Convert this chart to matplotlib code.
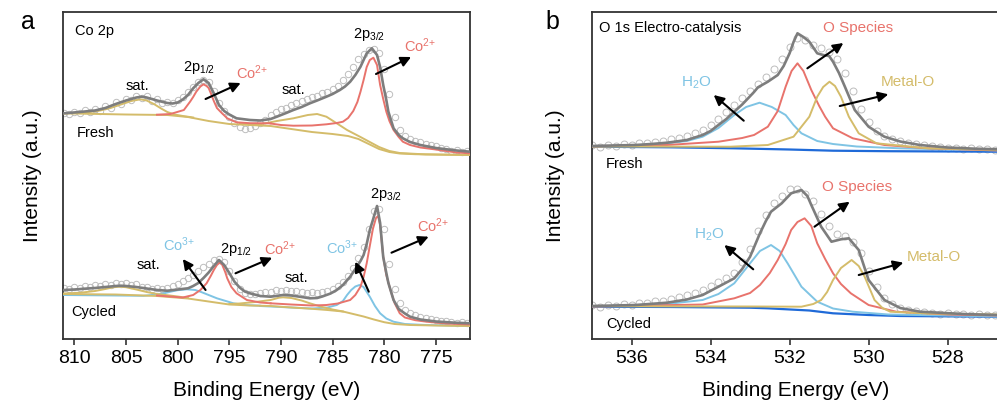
import numpy as np
import matplotlib
matplotlib.use("Agg")
import matplotlib.pyplot as plt

plt.rcParams['font.family'] = ['Liberation Sans', 'DejaVu Sans']
plt.rcParams['mathtext.fontset'] = 'custom'
plt.rcParams['mathtext.rm'] = 'Liberation Sans'
plt.rcParams['mathtext.default'] = 'regular'

# colours
GRAY = '#7d7d7d'
RED = '#e8736c'
YEL = '#d4bc6a'
LBLUE = '#7fc4e4'
DBLUE = '#1f6ad8'
CIRC = '#bdbdbd'

# ---------------- panel a : Co 2p, fresh ----------------
fa_base_e = [811, 805, 801, 799, 797, 795, 793, 791, 789, 787, 785, 783.5, 782.5, 781.5, 780.5, 779.5, 778.5, 777, 774, 771.7]
fa_base_i = [225.7, 224.5, 224, 222, 218, 215, 214, 213, 210, 207, 205, 203, 200, 195, 190, 187, 185.5, 184.8, 184.3, 184]

fa_env_e = [811, 809.5, 808, 807, 806, 805, 804, 803.5, 803, 802, 801, 800.5, 800, 799.5, 799, 798.5, 798, 797.5, 797,
            796.5, 796, 795.5, 795, 794.3, 793, 792, 791, 790.4, 789.5, 788.8, 788, 787.2, 786.5, 785.6, 785, 784.3,
            783.8, 783.3, 782.8, 782.3, 781.7, 781.2, 780.7, 780.4, 780.1, 779.8, 779.6, 779.1, 778.6, 778.2, 777.5,
            776.5, 775, 773, 771.7]
fa_env_i = [225.7, 227, 228.5, 231, 235, 238.5, 241.5, 242.3, 241.5, 238.5, 236, 235.5, 236.5, 239.5, 244, 250.7, 256,
            259.7, 256, 245.7, 234, 228, 224.5, 220.7, 219, 218.5, 220, 222.3, 226, 229, 232, 235.7, 238.5, 242.3, 245,
            249, 252.5, 257.3, 264, 272.3, 285.7, 290.7, 284, 272, 254, 239, 227.3, 210.7, 204, 200.7, 197, 194, 191,
            188.5, 187.3]

fa_sat1_e = [811, 810, 808.5, 807.5, 806.5, 805.5, 804.5, 803.6, 803, 802.3, 801.6, 801, 800.3, 799.5, 798.5]
fa_sat1_i = [225.7, 226, 227, 228.5, 231, 234.5, 238, 239.7, 238.5, 235, 230.5, 227, 224.5, 223, 221.5]

fa_co2a_e = [802, 800.7, 799.4, 798.8, 798.5, 798.2, 797.8, 797.5, 797.2, 797.0, 796.8, 796.5, 796.2, 795.8, 795.2,
             794.3, 793, 791]
fa_co2a_i = [224.3, 225, 229, 237.3, 242, 247.3, 252.5, 254.7, 253, 251, 246, 238, 231, 226.7, 220.7, 216.7, 215.8, 215.7]

fa_sat2_e = [794, 792, 790.4, 788.8, 787.4, 786.5, 785.6, 784.6, 783.6, 782.3, 781.4, 780.5, 779.5, 778.5, 776, 771.7]
fa_sat2_i = [215, 214.7, 218, 220.7, 224, 225, 222.3, 215.7, 209, 202, 197, 192, 188, 186, 184.6, 184]

fa_co2b_e = [791, 790, 788.8, 787, 785.6, 784.6, 784, 783.5, 783, 782.6, 782.3, 782, 781.7, 781.4, 781.05, 780.7,
             780.4, 780.1, 779.8, 779.5, 779.1, 778.6, 778.2, 777.5, 776.5, 775, 773, 771.7]
fa_co2b_i = [215.5, 214, 213.3, 213.5, 214.7, 216, 217.3, 221, 228, 237, 247.3, 259, 272, 279, 281.3, 274, 254, 240,
             227.3, 218, 209, 202, 197.3, 194, 191.5, 189.5, 186.5, 185.7]

raw_e_a = np.linspace(811, 772, 79)
fa_raw = [226.5, 224.8, 227.5, 226, 229, 227.2, 230, 228.5, 233, 231.5, 237, 235.5, 240.5, 239, 243.5, 241, 243,
          238.5, 240, 236, 237.5, 236, 239, 242, 247, 252.5, 257, 259, 257.5, 248, 236, 228, 222, 216, 212, 210.5,
          211, 213, 216, 219.5, 224, 227, 230, 231, 234, 236.5, 238, 240, 242, 243, 246, 247, 250, 253, 259, 265,
          272, 280, 285, 289, 290, 286, 270, 245, 222, 209, 203, 200, 198.5, 197, 195.5, 194, 193, 191, 190.5,
          188.5, 189, 187.5, 187.8]

# ---------------- panel a : Co 2p, cycled ----------------
ca_base_e = [811, 806, 802, 799, 797, 795, 793, 791, 789, 787, 785.5, 784, 783, 782, 781, 780, 779, 777.5, 774, 771.7]
ca_base_i = [45, 44.5, 43, 40.5, 37.5, 34.5, 33.5, 33, 31.5, 30.2, 29, 27.5, 25, 22.5, 19.5, 16.8, 15, 14, 13.3, 13]

ca_env_e = [811, 810, 809, 808, 807, 806, 805.5, 805, 804, 803, 802, 801, 800, 799, 798.5, 798, 797.5, 797, 796.5,
            796, 795.5, 795, 794.5, 794, 793.5, 793, 792, 791, 790.5, 789.8, 789, 788, 787.2, 786.5, 786, 785.2,
            784.6, 784, 783.3, 782.8, 782.3, 782, 781.7, 781.4, 781.1, 780.7, 780.4, 780.1, 779.8, 779.6, 779.1,
            778.6, 778, 777.5, 776.5, 775, 773, 771.7]
ca_env_i = [49, 49.5, 50.3, 51, 52, 53, 53.3, 53, 52, 50.5, 49, 48.3, 49.5, 50.7, 53, 56, 61, 66.5, 73, 79, 74, 66,
            57.3, 51.5, 47.5, 45.7, 43, 42.3, 43, 44, 43.5, 42, 40.7, 41, 42.5, 45.5, 49, 54, 62.3, 70, 78, 84, 95,
            109, 119, 133, 116, 82, 66, 56, 39, 30, 25.5, 22.3, 19.5, 17.5, 16.2, 15.7]

ca_sat1_e = [811, 809.4, 808, 807, 806.2, 805.6, 805, 804, 803, 802, 801, 800, 799]
ca_sat1_i = [45.5, 46.3, 48, 50, 51.8, 52.3, 51.8, 49.5, 47, 45, 43.8, 42.5, 41]

ca_co3a_e = [811, 806, 803.3, 802, 801.2, 800.7, 800, 799.1, 798.3, 797.8, 797, 796.2, 795.5, 794.6, 793.5, 792]
ca_co3a_i = [44, 43.5, 43.2, 44.5, 46, 47.3, 48.8, 49.7, 49, 47.3, 44, 40.7, 38.5, 35.7, 34, 33.3]

ca_co2a_e = [802, 799.5, 798.5, 797.8, 797.2, 796.8, 796.5, 796.2, 795.95, 795.7, 795.4, 795.2, 794.8, 794.3, 793.3,
             792, 791]
ca_co2a_i = [43.5, 41.5, 44, 49, 55.7, 63, 69, 74, 76.3, 74.5, 67, 60.7, 52, 45.7, 39, 36.5, 35.7]

ca_sat2_e = [795, 794, 792.5, 791, 790.2, 789.8, 789, 788, 787.2, 786, 785, 784]
ca_sat2_i = [35, 35.5, 37, 39, 41.3, 41.7, 41, 38.5, 35.7, 32, 29.5, 27.5]

ca_co3b_e = [792, 787, 785.5, 784.6, 784.0, 783.6, 783.2, 782.8, 782.4, 782.0, 781.4, 780.9, 780.4, 779.8, 779.1,
             778, 776, 773, 771.7]
ca_co3b_i = [33, 30.5, 31.5, 34, 38, 44, 49, 52.5, 54, 52, 42.3, 33, 25.7, 20.5, 17.3, 15, 14, 13.3, 13]

ca_co2b_e = [791, 789, 787, 785.6, 784.5, 783.3, 782.8, 782.3, 782.0, 781.7, 781.4, 781.1, 780.8, 780.6, 780.4,
             780.1, 779.8, 779.4, 779.0, 778.5, 778.0, 777, 775.9, 774, 771.7]
ca_co2b_i = [35.7, 34.5, 33.5, 34, 35.5, 39, 44, 52.3, 62, 75.7, 93, 110, 121, 123, 114, 82.3, 64, 49, 36, 25.7,
             21.5, 18.8, 17.3, 15.5, 14.5]

ca_raw = [51, 50, 52.5, 51, 53, 52, 54, 53, 55.5, 54, 56, 55, 56.5, 54, 55, 52.5, 52, 50.5, 51.5, 50, 51, 53, 55, 58,
          61, 64, 68, 72, 75, 79, 80, 77, 68, 58, 50, 46, 45, 45.5, 46, 47, 47.5, 49, 48, 49.5, 48.5, 48, 47.5, 46,
          47, 46.5, 47.5, 48.5, 50, 53, 57, 63, 71, 81, 92, 110, 128, 130, 110, 75, 50, 36, 29, 26, 24.5, 22, 21.5,
          20, 19.5, 18, 18.5, 17, 16.5, 17, 16]

# ---------------- panel b : O 1s, fresh ----------------
fb_base_e = [537, 535, 533.4, 532, 530.9, 529.5, 526.7]
fb_base_i = [192.3, 191.7, 190.7, 189.5, 188.3, 187.8, 187.3]

fb_env_e = [537.0, 536.5, 535.9, 535.5, 535.1, 534.6, 534.2, 534.0, 533.8, 533.6, 533.4, 533.2, 533.05, 532.9,
            532.8, 532.55, 532.3, 532.15, 532.0, 531.9, 531.8, 531.65, 531.5, 531.3, 531.15, 531.0, 530.9, 530.75,
            530.6, 530.35, 530.0, 529.6, 529.2, 528.7, 528.0, 527.3, 526.7]
fb_env_i = [193, 193.5, 194, 195, 196.3, 199, 204, 208, 214, 220, 227.3, 234.5, 240.7, 247, 251.7, 257.3, 264, 273,
            285.7, 297, 305.7, 302, 297.3, 285.7, 284, 283, 277.3, 266, 252.3, 229, 212.3, 202.3, 197.5, 194, 191.5,
            190.3, 189.7]

fb_h2o_e = [537, 535.5, 535.1, 534.6, 534.2, 533.8, 533.4, 533.1, 532.76, 532.45, 532.1, 531.9, 531.7, 531.3, 530.9,
            530.3, 529.2, 526.7]
fb_h2o_i = [192.5, 194, 195.7, 198, 202.3, 211, 224, 232, 236.3, 232, 224, 214, 205.7, 198, 195, 192.5, 190.7, 188.5]

fb_os_e = [537, 535.1, 533.8, 533.2, 532.9, 532.55, 532.3, 532.1, 531.95, 531.8, 531.65, 531.45, 531.25, 531.1,
           530.9, 530.4, 529.6, 528.5, 526.7]
fb_os_i = [192.5, 194, 197.3, 201, 204, 212.3, 228, 252.3, 268, 275.7, 268, 249, 233, 222.3, 210.7, 200.7, 194,
           190.7, 188.5]

fb_mo_e = [537, 533.5, 532.55, 531.9, 531.5, 531.3, 531.15, 530.99, 530.85, 530.7, 530.5, 530.25, 529.8, 528.5, 526.7]
fb_mo_i = [192.5, 192.3, 194, 202.3, 222.3, 242.3, 252, 257.3, 253, 242.3, 222.3, 205.7, 195.7, 190.7, 189]

raw_e_b = np.linspace(537.0, 526.8, 52)
fb_raw = [194.5, 192.5, 194, 193.5, 195, 194.5, 196, 196.5, 197.5, 198.5, 200, 201.5, 203.5, 206, 209.5, 214, 220,
          227, 234, 241, 248, 255, 262, 270, 280, 292, 301, 299, 294, 291, 287, 280, 266, 248, 230, 217, 208, 203.5,
          200, 198, 196.5, 195, 194, 193, 192.5, 191.5, 191, 190.5, 190.8, 190, 189.8, 189.5]

# ---------------- panel b : O 1s, cycled ----------------
cb_base_e = [537, 535, 533, 532.55, 531.5, 530.9, 530, 529.2, 526.7]
cb_base_i = [32.3, 32, 31.3, 30.7, 28.5, 25.7, 24, 23, 22.3]

cb_env_e = [537, 535.9, 535.1, 534.6, 534.2, 533.8, 533.4, 533.2, 533.0, 532.75, 532.6, 532.47, 532.2, 531.96,
            531.7, 531.55, 531.45, 531.2, 530.94, 530.7, 530.5, 530.25, 530.0, 529.6, 529.2, 528.7, 527.5, 526.7]
cb_env_i = [33, 34, 36.3, 39.5, 44, 52.3, 60.7, 70, 82.3, 105.7, 118, 127.3, 135.7, 145.7, 149, 143, 134, 112.3,
            97.3, 99.7, 100.7, 89, 59, 39, 31, 27.3, 24.8, 24]

cb_h2o_e = [537, 535.1, 534.2, 533.8, 533.4, 533.0, 532.75, 532.47, 532.25, 532.05, 531.7, 531.3, 530.9, 530.4,
            529.5, 526.7]
cb_h2o_i = [32.5, 35, 39, 45, 55.7, 75.7, 88, 94, 88, 75.7, 52.3, 37.3, 30.5, 27.3, 24.5, 22.5]

cb_os_e = [537, 534.2, 533.4, 533.0, 532.75, 532.5, 532.3, 532.1, 531.96, 531.8, 531.62, 531.45, 531.3, 531.1,
           530.9, 530.7, 530.45, 530.0, 529.3, 528, 526.7]
cb_os_i = [32.5, 34.5, 40.7, 46, 54, 66, 79, 95, 109, 117, 120.7, 113, 95.7, 80, 65.7, 55, 45.7, 34, 27.3, 24.5, 23.5]

cb_mo_e = [537, 533, 531.7, 531.4, 531.2, 531.05, 530.9, 530.7, 530.43, 530.25, 530.1, 529.85, 529.65, 529.45,
           528.5, 526.7]
cb_mo_i = [32.8, 32.5, 32.3, 35, 39, 47, 59, 71, 79, 73, 62.3, 39, 31, 27.3, 25.5, 24.5]

cb_raw = [34, 32.5, 34.5, 33, 35, 34, 36, 36.5, 38, 38.5, 40.5, 42, 44, 46.5, 49, 53, 57, 61, 66, 77, 90, 108, 124,
          136, 143, 150, 150, 145, 138, 125, 113, 105, 103, 97, 86, 68, 52, 41, 35, 31.5, 29.5, 28.5, 27, 26.5,
          25.5, 25.8, 25, 25.3, 24.5, 24.6, 24, 24.2]


fig = plt.figure(figsize=(9.97, 4.03), dpi=100)
ax_a = fig.add_axes([0.0632, 0.1588, 0.4082, 0.8114])
ax_b = fig.add_axes([0.5938, 0.1588, 0.4082, 0.8114])


def line(ax, e, i, color, lw=1.4, z=3):
    ax.plot(e, i, color=color, lw=lw, zorder=z, solid_joinstyle='round')


def raw(ax, e, i, ms):
    ax.plot(e, i, 'o', mfc='none', mec=CIRC, ms=ms, mew=0.7, zorder=1)


def arrow(ax, tail, head):
    ax.annotate('', xy=head, xytext=tail,
                arrowprops=dict(arrowstyle='-|>', color='black', lw=1.5, mutation_scale=15,
                                shrinkA=0, shrinkB=0), zorder=6)


FS = 10.5
CO2 = r'Co$^{2{+}}$'
CO3 = r'Co$^{3{+}}$'

# panel a
raw(ax_a, raw_e_a, fa_raw, 4.6)
raw(ax_a, raw_e_a, ca_raw, 4.6)
line(ax_a, fa_base_e, fa_base_i, YEL)
line(ax_a, fa_sat1_e, fa_sat1_i, YEL)
line(ax_a, fa_sat2_e, fa_sat2_i, YEL)
line(ax_a, fa_co2a_e, fa_co2a_i, RED)
line(ax_a, fa_co2b_e, fa_co2b_i, RED)
line(ax_a, fa_env_e, fa_env_i, GRAY, lw=1.9, z=4)

line(ax_a, ca_co3a_e, ca_co3a_i, LBLUE)
line(ax_a, ca_co3b_e, ca_co3b_i, LBLUE)
line(ax_a, ca_base_e, ca_base_i, YEL)
line(ax_a, ca_sat1_e, ca_sat1_i, YEL)
line(ax_a, ca_sat2_e, ca_sat2_i, YEL)
line(ax_a, ca_co2a_e, ca_co2a_i, RED)
line(ax_a, ca_co2b_e, ca_co2b_i, RED)
line(ax_a, ca_env_e, ca_env_i, GRAY, lw=1.9, z=4)

ax_a.set_xlim(811.1, 771.7)
ax_a.set_ylim(0, 327)
ax_a.set_xticks([810, 805, 800, 795, 790, 785, 780, 775])

ax_a.text(809.9, 308, 'Co 2p', fontsize=FS, va='center', ha='left')
ax_a.text(809.8, 206.5, 'Fresh', fontsize=FS, va='center', ha='left')
ax_a.text(810.3, 27.3, 'Cycled', fontsize=FS, va='center', ha='left')
ax_a.text(803.9, 253, 'sat.', fontsize=FS, va='center', ha='center')
ax_a.text(788.8, 249, 'sat.', fontsize=FS, va='center', ha='center')
ax_a.text(797.9, 272, r'2p$_{1/2}$', fontsize=FS, va='center', ha='center')
ax_a.text(781.5, 305, r'2p$_{3/2}$', fontsize=FS, va='center', ha='center')
ax_a.text(792.8, 266, CO2, fontsize=FS, va='center', ha='center', color=RED)
ax_a.text(776.5, 293, CO2, fontsize=FS, va='center', ha='center', color=RED)
arrow(ax_a, (797.3, 240), (793.9, 256))
arrow(ax_a, (780.8, 265), (777.4, 282))

ax_a.text(802.8, 74, 'sat.', fontsize=FS, va='center', ha='center')
ax_a.text(788.5, 60.7, 'sat.', fontsize=FS, va='center', ha='center')
ax_a.text(799.9, 94, CO3, fontsize=FS, va='center', ha='center', color=LBLUE)
ax_a.text(794.3, 90, r'2p$_{1/2}$', fontsize=FS, va='center', ha='center')
ax_a.text(790.1, 90, CO2, fontsize=FS, va='center', ha='center', color=RED)
ax_a.text(784.1, 91.5, CO3, fontsize=FS, va='center', ha='center', color=LBLUE)
ax_a.text(779.8, 145, r'2p$_{3/2}$', fontsize=FS, va='center', ha='center')
ax_a.text(775.25, 113, CO2, fontsize=FS, va='center', ha='center', color=RED)
arrow(ax_a, (797.3, 49), (799.5, 80))
arrow(ax_a, (794.4, 65.7), (790.85, 81.3))
arrow(ax_a, (781.5, 47.3), (782.8, 77.3))
arrow(ax_a, (779.3, 86.3), (775.7, 102.3))

# panel b
raw(ax_b, raw_e_b, fb_raw, 5.0)
raw(ax_b, raw_e_b, cb_raw, 5.0)
line(ax_b, fb_base_e, fb_base_i, DBLUE, lw=1.6)
line(ax_b, fb_h2o_e, fb_h2o_i, LBLUE)
line(ax_b, fb_os_e, fb_os_i, RED)
line(ax_b, fb_mo_e, fb_mo_i, YEL)
line(ax_b, fb_env_e, fb_env_i, GRAY, lw=1.9, z=4)

line(ax_b, cb_base_e, cb_base_i, DBLUE, lw=1.6)
line(ax_b, cb_h2o_e, cb_h2o_i, LBLUE)
line(ax_b, cb_os_e, cb_os_i, RED)
line(ax_b, cb_mo_e, cb_mo_i, YEL)
line(ax_b, cb_env_e, cb_env_i, GRAY, lw=1.9, z=4)

ax_b.set_xlim(537, 526.7)
ax_b.set_ylim(0, 327)
ax_b.set_xticks([536, 534, 532, 530, 528])

ax_b.text(536.83, 311, 'O 1s Electro-catalysis', fontsize=FS, va='center', ha='left')
ax_b.text(536.66, 174.7, 'Fresh', fontsize=FS, va='center', ha='left')
ax_b.text(536.64, 15, 'Cycled', fontsize=FS, va='center', ha='left')
ax_b.text(530.26, 310.7, 'O Species', fontsize=FS + 0.5, va='center', ha='center', color=RED)
ax_b.text(534.37, 256.3, r'H$_2$O', fontsize=FS + 0.5, va='center', ha='center', color=LBLUE)
ax_b.text(529.01, 257.3, 'Metal-O', fontsize=FS + 0.5, va='center', ha='center', color=YEL)
arrow(ax_b, (531.55, 270.7), (530.64, 296))
arrow(ax_b, (533.16, 218.3), (533.92, 244))
arrow(ax_b, (530.73, 233), (529.5, 244.7))

ax_b.text(530.28, 152.3, 'O Species', fontsize=FS + 0.5, va='center', ha='center', color=RED)
ax_b.text(534.04, 104, r'H$_2$O', fontsize=FS + 0.5, va='center', ha='center', color=LBLUE)
ax_b.text(528.34, 82.3, 'Metal-O', fontsize=FS + 0.5, va='center', ha='center', color=YEL)
arrow(ax_b, (531.37, 112.3), (530.48, 137.3))
arrow(ax_b, (532.92, 69.7), (533.65, 94))
arrow(ax_b, (530.25, 64), (529.12, 76.3))

for ax, lx in ((ax_a, -0.051), (ax_b, -0.066)):
    ax.set_yticks([])
    ax.tick_params(axis='x', direction='out', length=4, width=1.2, labelsize=14, pad=4, color='#333333')
    for s in ax.spines.values():
        s.set_linewidth(1.3)
        s.set_color('#333333')
    ax.set_xlabel('Binding Energy (eV)', fontsize=15)
    ax.set_ylabel('Intensity (a.u.)', fontsize=15)
    ax.xaxis.set_label_coords(0.5, -0.128)
    ax.yaxis.set_label_coords(lx, 0.5)

fig.text(28 / 997, 1 - 22 / 403, 'a', fontsize=18, ha='center', va='center')
fig.text(552 / 997, 1 - 22 / 403, 'b', fontsize=18, ha='center', va='center')

fig.savefig('out.png', dpi=100)
